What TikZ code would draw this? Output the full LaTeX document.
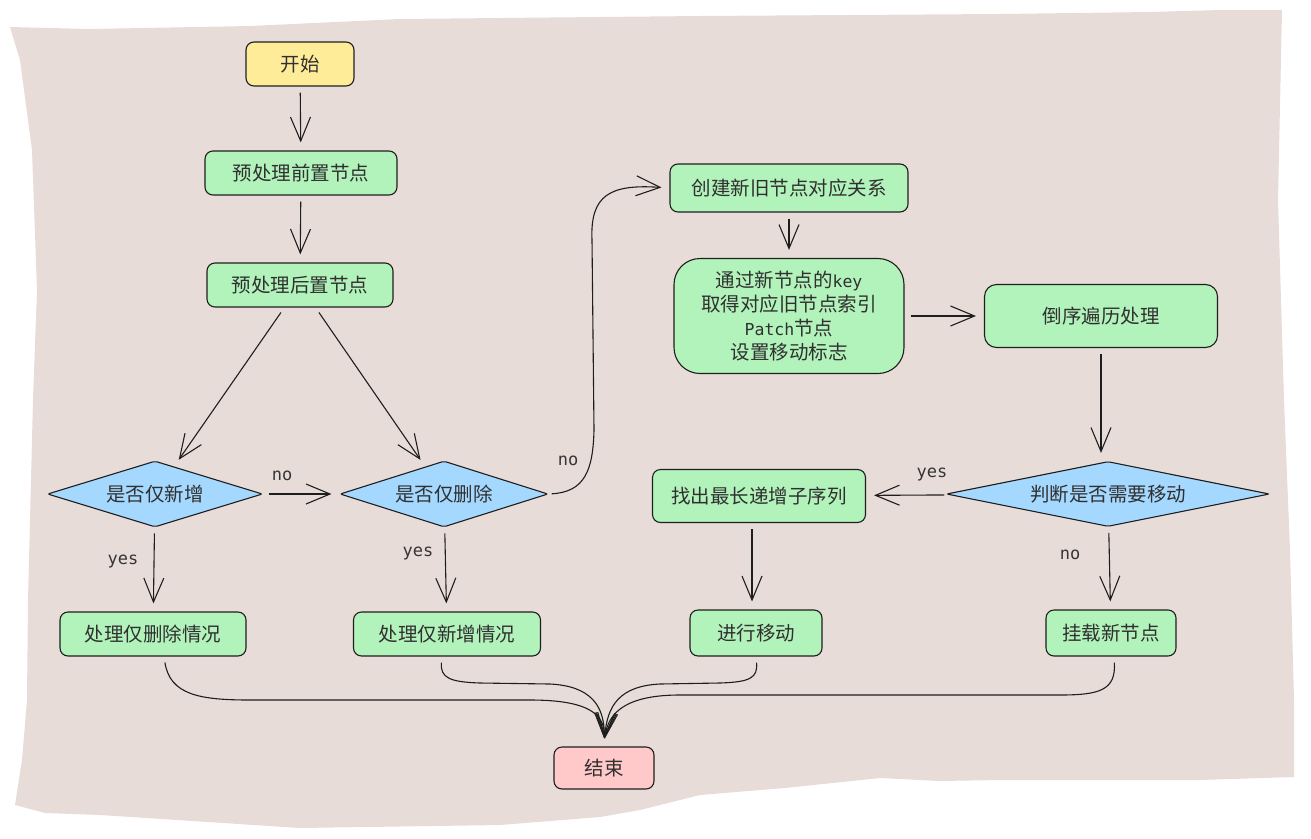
\documentclass[tikz,border=0pt]{standalone}
\usepackage{fontspec}
\setmainfont{Noto Sans CJK SC}
\newfontfamily\monofnt{DejaVu Sans Mono}
\usetikzlibrary{shapes.geometric,arrows.meta}
\definecolor{paper}{HTML}{E8DCD8}
\definecolor{ink}{HTML}{1E1E1E}
\definecolor{boxgreen}{HTML}{B2F2BB}
\definecolor{boxyellow}{HTML}{FFEC99}
\definecolor{boxpink}{HTML}{FFC9C9}
\definecolor{boxblue}{HTML}{A5D8FF}
\newcommand{\lat}[1]{{\monofnt\fontsize{16.5}{20}\selectfont #1}}
\begin{document}
\begin{tikzpicture}[x=1pt,y=-1pt,
  font=\fontsize{19.5}{24}\selectfont, text=ink!92,
  box/.style={draw=ink, line width=1.1pt, fill=boxgreen, rounded corners=8pt, inner sep=0pt},
  choice/.style={draw=ink, line width=1.1pt, fill=boxblue, diamond, inner sep=0pt, rounded corners=2pt},
  arr/.style={draw=ink, line width=1.1pt, -{Straight Barb[length=24pt,width=20pt]}, shorten <=6pt, shorten >=8pt},
  lbl/.style={font=\monofnt\fontsize{17}{20}\selectfont, text=ink!90}]
\useasboundingbox (0,0) rectangle (1311,838);
% torn paper
\fill[paper] (10,27) -- (90,29) -- (250,26) -- (400,19) -- (700,16) -- (1000,14) -- (1150,12)
  -- (1220,10) -- (1282,10) -- (1278,200) -- (1284,400) -- (1290,550) -- (1294,700) -- (1294,777)
  -- (1200,780) -- (1000,780) -- (940,781) -- (880,778) -- (785,788) -- (700,795) -- (640,810)
  -- (600,817) -- (500,825) -- (300,828) -- (100,815) -- (45,813) -- (15,805) -- (22,760)
  -- (27,700) -- (28,600) -- (33,400) -- (37,290) -- (32,150) -- (20,60) -- cycle;

\node[box, fill=boxyellow, minimum width=108, minimum height=44] (start) at (300,64) {开始};
\node[box, minimum width=192, minimum height=44] (pre) at (301,173) {预处理前置节点};
\node[box, minimum width=186, minimum height=44] (post) at (300,285) {预处理后置节点};
\node[choice, minimum width=215, minimum height=66, aspect=3.3] (isadd) at (155,494) {是否仅新增};
\node[choice, minimum width=208, minimum height=66, aspect=3.2] (isdel) at (444,494) {是否仅删除};
\node[box, minimum width=186, minimum height=44] (delcase) at (153,634) {处理仅删除情况};
\node[box, minimum width=187, minimum height=44] (addcase) at (447,634) {处理仅新增情况};
\node[box, minimum width=238, minimum height=48] (create) at (789,188) {创建新旧节点对应关系};
\node[box, rounded corners=26pt, minimum width=230, minimum height=115, align=center] (match) at (789,316)
  {通过新节点的\lat{key}\\取得对应旧节点索引\\\lat{Patch}节点\\设置移动标志};
\node[box, rounded corners=12pt, minimum width=233, minimum height=63] (rev) at (1101,316) {倒序遍历处理};
\node[choice, minimum width=323, minimum height=65, aspect=5] (judge) at (1108,494) {判断是否需要移动};
\node[box, minimum width=213, minimum height=53] (lis) at (759,496) {找出最长递增子序列};
\node[box, minimum width=132, minimum height=46] (move) at (756,633) {进行移动};
\node[box, minimum width=130, minimum height=46] (mount) at (1111,633) {挂载新节点};
\node[box, fill=boxpink, minimum width=100, minimum height=42] (end) at (604,768) {结束};

\node[lbl] (no1) at (282,476) {no};
\node[lbl] (yes1) at (123,561) {yes};
\node[lbl] (yes2) at (418,553) {yes};
\node[lbl] (no2) at (568,461) {no};
\node[lbl] (yes3) at (932,474) {yes};
\node[lbl] (no3) at (1070,555) {no};

\draw[arr] (start) -- (pre);
\draw[arr] (pre) -- (post);
\draw[arr] (post) -- (isadd);
\draw[arr] (post) -- (isdel);
\draw[arr] (isadd) -- (isdel);
\draw[arr] (isadd) -- (delcase);
\draw[arr] (isdel) -- (addcase);
\draw[arr, shorten <=3pt] (isdel.east) .. controls (585,492) and (593,470) .. (594,430)
  -- (592,240) .. controls (590,195) and (610,184) .. (create.west);
\draw[arr] (create) -- (match);
\draw[arr] (match) -- (rev);
\draw[arr] (rev) -- (rev |- judge.north);
\draw[arr] (judge) -- (lis);
\draw[arr] (judge) -- (mount);
\draw[arr] ([xshift=-7]lis.south) -- ([xshift=-4]move.north);

\draw[arr] ([xshift=11]delcase.south) .. controls (170,695) and (200,700) .. (250,700)
  -- (530,700) .. controls (590,700) and (605,715) .. (end.north);
\draw[arr] ([xshift=-5]addcase.south) .. controls (440,678) and (450,682) .. (480,683)
  -- (550,684) .. controls (590,686) and (605,705) .. (end.north);
\draw[arr] (move.south) .. controls (758,678) and (750,682) .. (720,683)
  -- (660,684) .. controls (620,686) and (607,705) .. (end.north);
\draw[arr] ([xshift=3]mount.south) .. controls (1116,690) and (1100,695) .. (1060,695)
  -- (680,695) .. controls (630,695) and (608,710) .. (end.north);
\end{tikzpicture}
\end{document}
